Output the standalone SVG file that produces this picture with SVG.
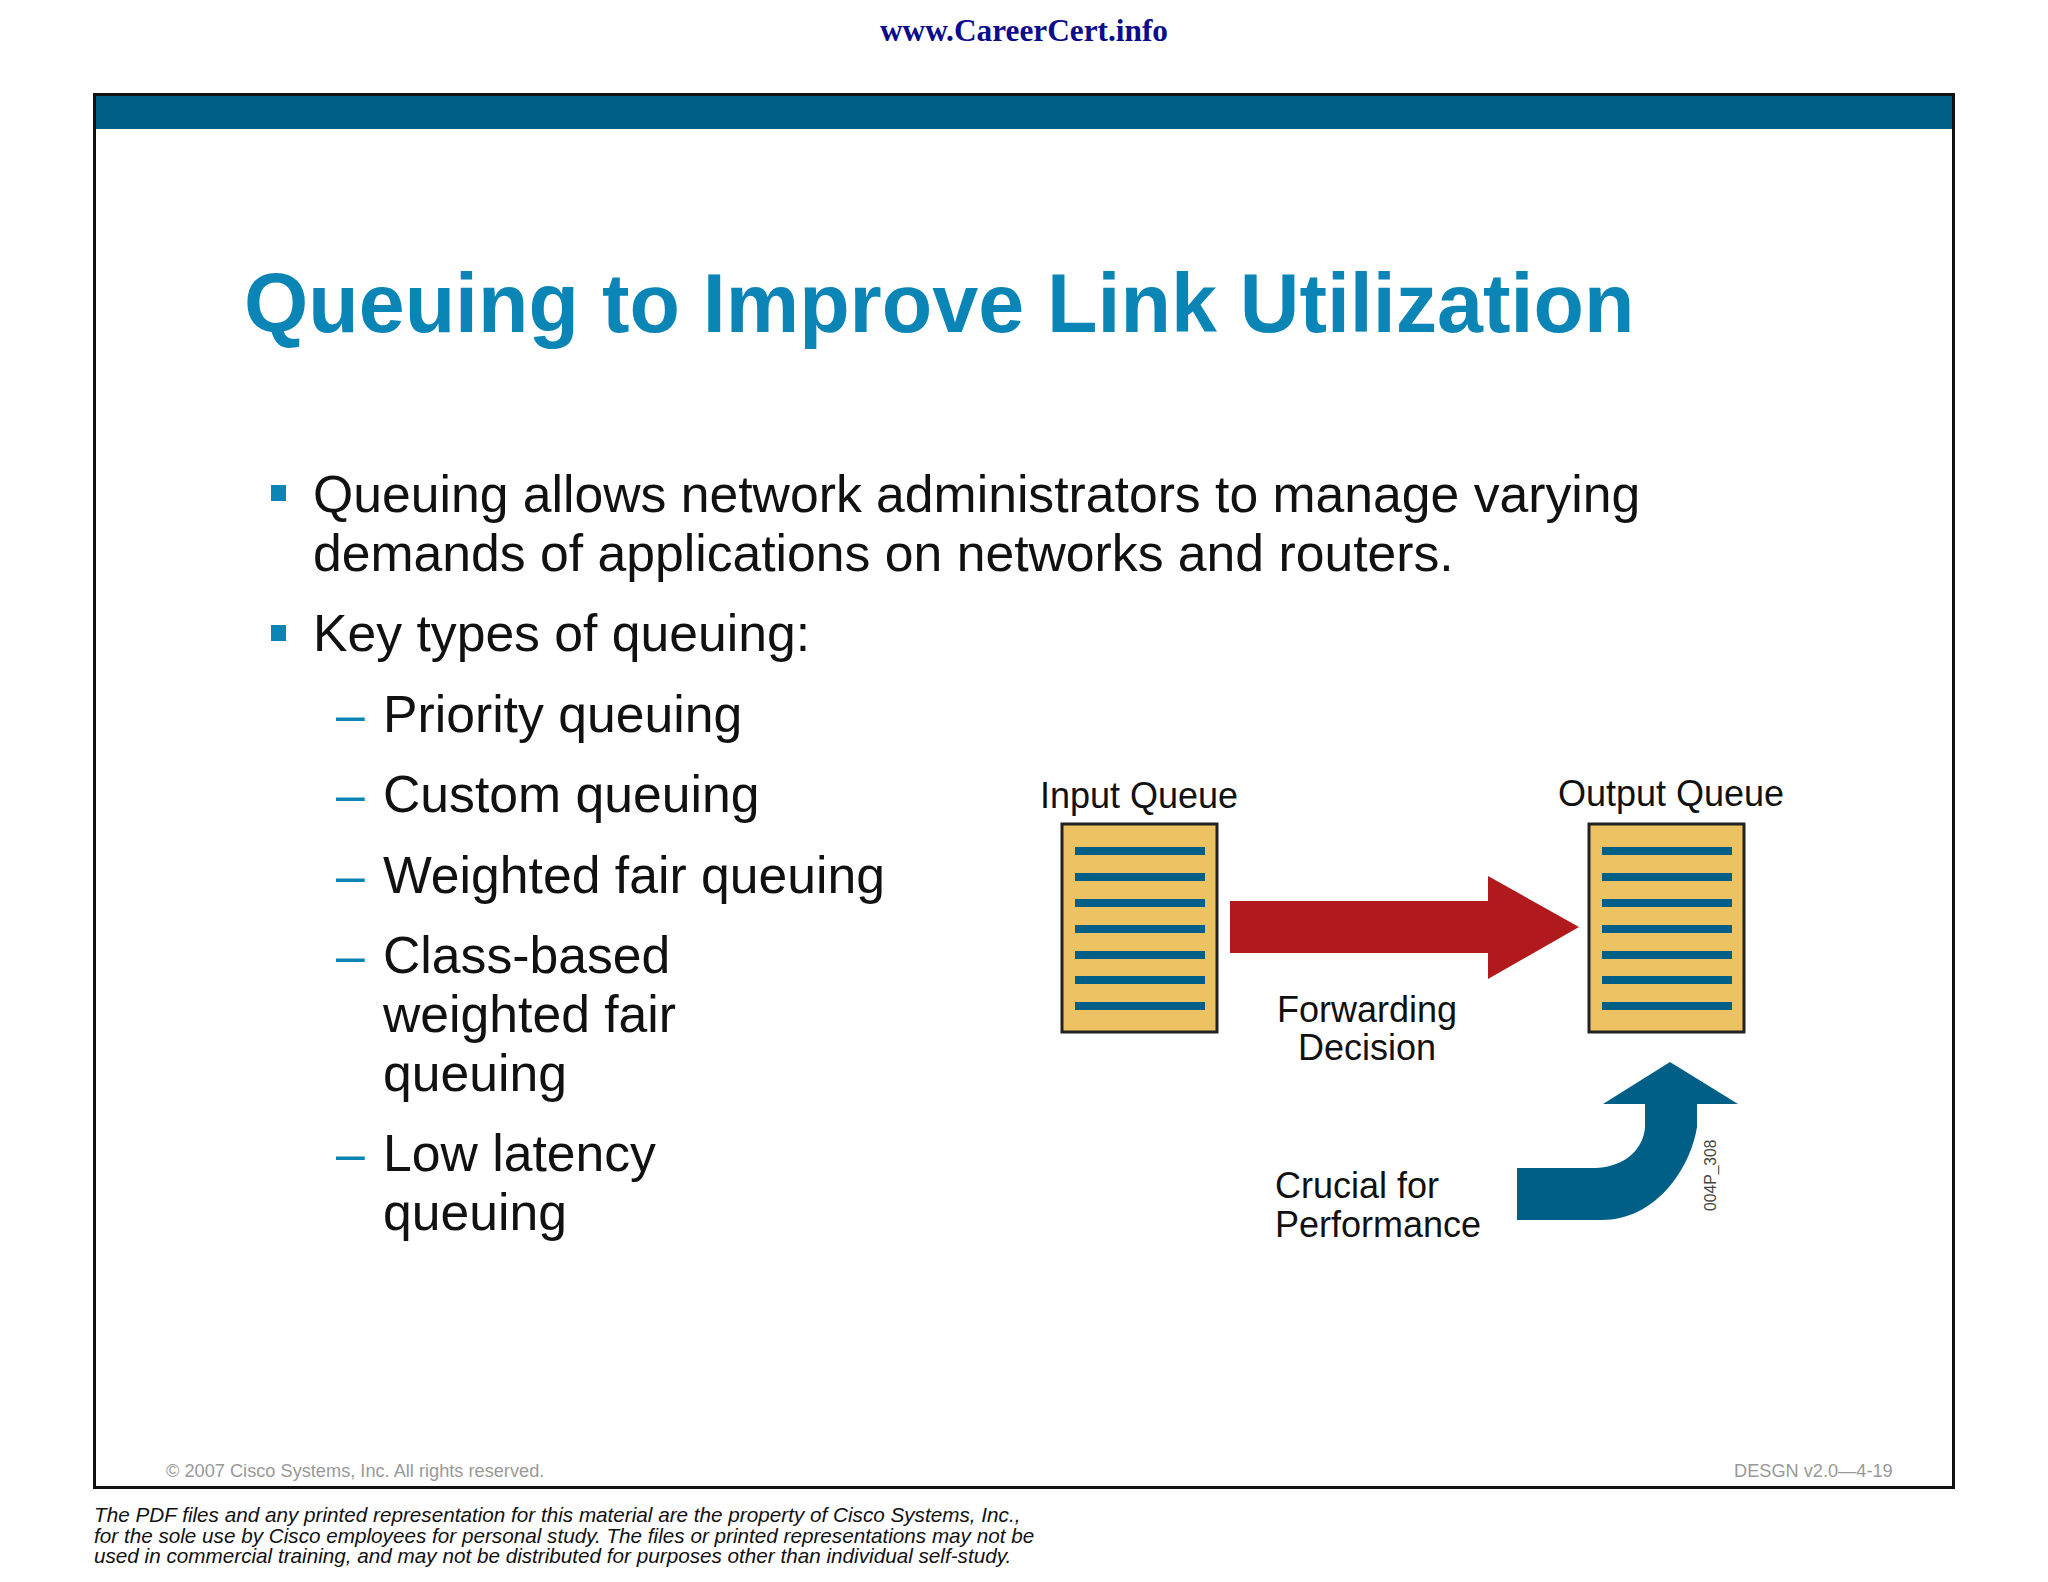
<svg xmlns="http://www.w3.org/2000/svg" width="2048" height="1582" viewBox="0 0 2048 1582">
<style>
text{font-family:"Liberation Sans",Arial,sans-serif}
.b{font-size:51.700px;fill:#111}
.d{font-size:51.700px;fill:#0a85b5}
.s{fill:#0a85b5}
.l{font-size:36px;fill:#111}
.q{fill:#edc263;stroke:#222;stroke-width:3}
.bar{fill:#005f87}
.g{font-size:18.200px;fill:#999}
.f{font-size:20.700px;font-style:italic;fill:#111}
</style>
<rect width="2048" height="1582" fill="#fff"/>
<text x="1024" y="41" text-anchor="middle" style="font-family:'Liberation Serif',serif;font-weight:bold;font-size:31.300px;fill:#0b0b8c">www.CareerCert.info</text>
<rect x="94.500" y="94.500" width="1859" height="1393" fill="#fff" stroke="#111" stroke-width="3"/>
<rect x="96" y="96" width="1856" height="33" fill="#005f87"/>
<text x="244" y="332" style="font-weight:bold;font-size:82.600px;fill:#0a85b5">Queuing to Improve Link Utilization</text>
<g id="bullets">
<rect class="s" x="271" y="485" width="15" height="16"/>
<text class="b" x="313" y="512">Queuing allows network administrators to manage varying</text>
<text class="b" x="313" y="571">demands of applications on networks and routers.</text>
<rect class="s" x="271" y="625" width="15" height="16"/>
<text class="b" x="313" y="651">Key types of queuing:</text>
<text class="d" x="336" y="732">–</text><text class="b" x="383" y="732">Priority queuing</text>
<text class="d" x="336" y="812">–</text><text class="b" x="383" y="812">Custom queuing</text>
<text class="d" x="336" y="893">–</text><text class="b" x="383" y="893">Weighted fair queuing</text>
<text class="d" x="336" y="973">–</text><text class="b" x="383" y="973">Class-based</text>
<text class="b" x="383" y="1032">weighted fair</text>
<text class="b" x="383" y="1091">queuing</text>
<text class="d" x="336" y="1171">–</text><text class="b" x="383" y="1171">Low latency</text>
<text class="b" x="383" y="1230">queuing</text>
</g>
<g id="input-queue">
<text class="l" x="1139" y="808" text-anchor="middle">Input Queue</text>
<rect class="q" x="1062" y="824" width="155" height="208"/>
<path class="bar" d="M1075 847h130v8h-130zM1075 873h130v8h-130zM1075 899h130v8h-130zM1075 925h130v8h-130zM1075 951h130v8h-130zM1075 976h130v8h-130zM1075 1002h130v8h-130z"/>
</g>
<g id="output-queue">
<text class="l" x="1671" y="806" text-anchor="middle">Output Queue</text>
<rect class="q" x="1589" y="824" width="155" height="208"/>
<path class="bar" d="M1602 847h130v8h-130zM1602 873h130v8h-130zM1602 899h130v8h-130zM1602 925h130v8h-130zM1602 951h130v8h-130zM1602 976h130v8h-130zM1602 1002h130v8h-130z"/>
</g>
<g id="connectors">
<path fill="#b01a1c" d="M1230 901H1488V876L1579 927L1488 979V953H1230Z"/>
<path fill="#005f87" d="M1517 1168H1596C1630 1166 1644 1145 1645 1127V1104H1603L1670 1062L1738 1104H1697V1127C1690 1170 1655 1220 1602 1220H1517Z"/>
</g>
<g id="labels">
<text class="l" x="1367" y="1022" text-anchor="middle">Forwarding</text>
<text class="l" x="1367" y="1060" text-anchor="middle">Decision</text>
<text class="l" x="1275" y="1198">Crucial for</text>
<text class="l" x="1275" y="1237">Performance</text>
<text transform="translate(1716 1211) rotate(-90)" style="font-size:15.700px;fill:#444">004P_308</text>
</g>
<text class="g" x="166" y="1477">© 2007 Cisco Systems, Inc. All rights reserved.</text>
<text class="g" x="1734" y="1477">DESGN v2.0—4-19</text>
<g id="footer">
<text class="f" x="94" y="1522">The PDF files and any printed representation for this material are the property of Cisco Systems, Inc.,</text>
<text class="f" x="94" y="1543">for the sole use by Cisco employees for personal study. The files or printed representations may not be</text>
<text class="f" x="94" y="1563">used in commercial training, and may not be distributed for purposes other than individual self-study.</text>
</g>
</svg>
